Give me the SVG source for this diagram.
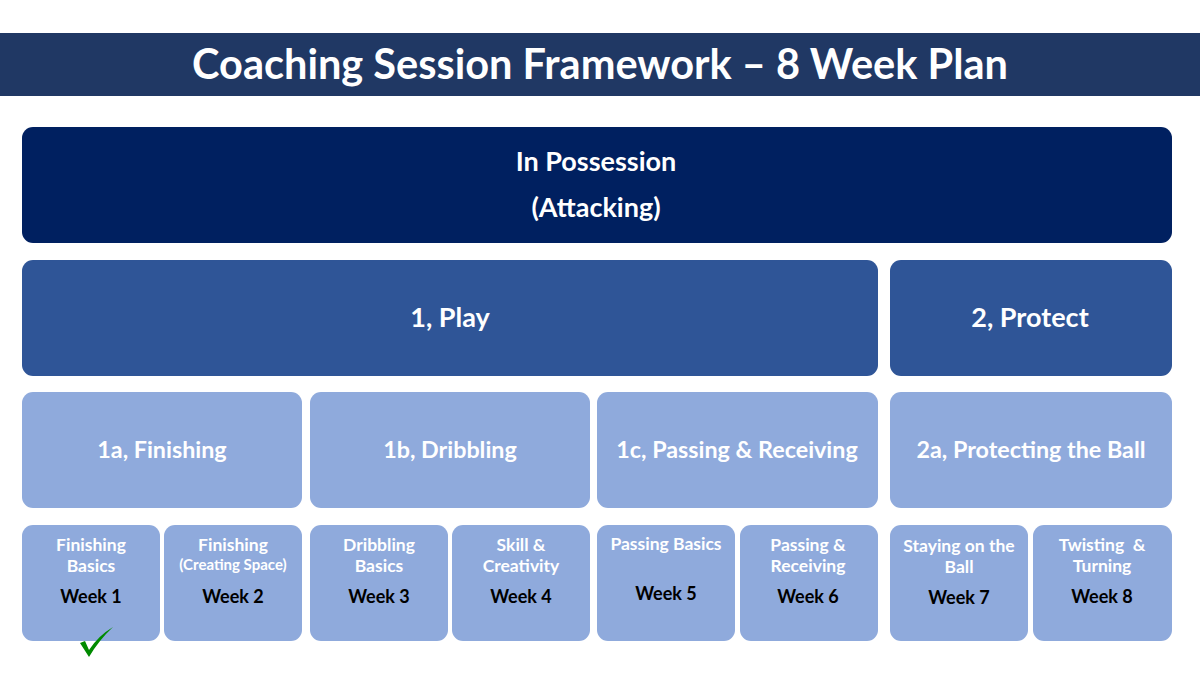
<svg xmlns="http://www.w3.org/2000/svg" width="1200" height="675" viewBox="0 0 1200 675">
<style>
text{font-family:Lato,"Open Sans","Liberation Sans",sans-serif;font-weight:bold;text-anchor:middle}
.t{fill:#fff}
.k{fill:#000}
.l1{font-size:27px}
.l2{font-size:23.3px}
.l3{font-size:17.5px}
.w{font-size:18px}
.dark{fill:#002060}
.mid{fill:#2F5597}
.lt{fill:#8FAADC}
</style>
<rect x="0" y="0" width="1200" height="675" fill="#fff"/>
<g id="title">
<rect x="0" y="33" width="1200" height="63" fill="#203864"/>
<text class="t" x="600" y="79" style="font-size:41.5px">Coaching Session Framework – 8 Week Plan</text>
</g>
<g id="connectors"></g>
<g id="in-possession">
<rect class="dark" x="22" y="127" width="1150" height="116" rx="11"/>
<text class="t l1" x="596" y="171">In Possession</text>
<text class="t l1" x="596" y="217">(Attacking)</text>
</g>
<g id="play">
<rect class="mid" x="22" y="260" width="856" height="116" rx="11"/>
<text class="t l1" x="450" y="327">1, Play</text>
</g>
<g id="protect">
<rect class="mid" x="890" y="260" width="282" height="116" rx="11"/>
<text class="t l1" x="1030" y="327">2, Protect</text>
</g>
<g id="finishing">
<rect class="lt" x="22" y="392" width="280" height="116" rx="11"/>
<text class="t l2" x="162" y="458">1a, Finishing</text>
</g>
<g id="dribbling">
<rect class="lt" x="310" y="392" width="280" height="116" rx="11"/>
<text class="t l2" x="450" y="458">1b, Dribbling</text>
</g>
<g id="passing">
<rect class="lt" x="597" y="392" width="281" height="116" rx="11"/>
<text class="t l2" x="737" y="458">1c, Passing &amp; Receiving</text>
</g>
<g id="protecting">
<rect class="lt" x="890" y="392" width="282" height="116" rx="11"/>
<text class="t l2" x="1031" y="458">2a, Protecting the Ball</text>
</g>
<g id="week1">
<rect class="lt" x="22" y="525" width="138" height="116" rx="11"/>
<text class="t l3" x="91" y="551">Finishing</text>
<text class="t l3" x="91" y="572">Basics</text>
<text class="k w" x="91" y="603">Week 1</text>
</g>
<g id="week2">
<rect class="lt" x="164" y="525" width="138" height="116" rx="11"/>
<text class="t l3" x="233" y="551">Finishing</text>
<text class="t" x="233" y="570" style="font-size:15px">(Creating Space)</text>
<text class="k w" x="233" y="603">Week 2</text>
</g>
<g id="week3">
<rect class="lt" x="310" y="525" width="138" height="116" rx="11"/>
<text class="t l3" x="379" y="551">Dribbling</text>
<text class="t l3" x="379" y="572">Basics</text>
<text class="k w" x="379" y="603">Week 3</text>
</g>
<g id="week4">
<rect class="lt" x="452" y="525" width="138" height="116" rx="11"/>
<text class="t l3" x="521" y="551">Skill &amp;</text>
<text class="t l3" x="521" y="572">Creativity</text>
<text class="k w" x="521" y="603">Week 4</text>
</g>
<g id="week5">
<rect class="lt" x="597" y="525" width="138" height="116" rx="11"/>
<text class="t l3" x="666" y="550">Passing Basics</text>
<text class="k w" x="666" y="600">Week 5</text>
</g>
<g id="week6">
<rect class="lt" x="740" y="525" width="138" height="116" rx="11"/>
<text class="t l3" x="808" y="551">Passing &amp;</text>
<text class="t l3" x="808" y="572">Receiving</text>
<text class="k w" x="808" y="603">Week 6</text>
</g>
<g id="week7">
<rect class="lt" x="890" y="525" width="138" height="116" rx="11"/>
<text class="t l3" x="959" y="552">Staying on the</text>
<text class="t l3" x="959" y="573">Ball</text>
<text class="k w" x="959" y="604">Week 7</text>
</g>
<g id="week8">
<rect class="lt" x="1033" y="525" width="139" height="116" rx="11"/>
<text class="t l3" x="1102" y="551">Twisting&#160; &amp;</text>
<text class="t l3" x="1102" y="572">Turning</text>
<text class="k w" x="1102" y="603">Week 8</text>
</g>
<g id="check">
<path d="M80,643 L85,641 L89,650 Q98,636 113,627 Q99,640 89,657 Z" fill="#008A00"/>
</g>
</svg>
